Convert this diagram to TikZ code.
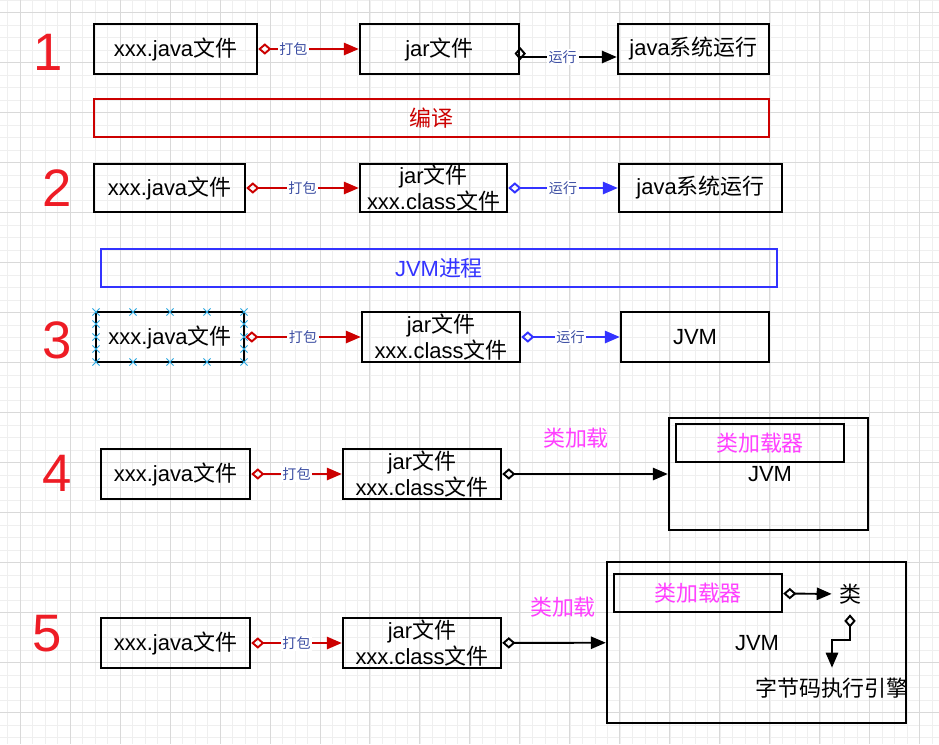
\documentclass[tikz,border=0pt]{standalone}
\usepackage{fontspec}
\setmainfont{Liberation Sans}
\newfontfamily\zh{Noto Sans CJK SC}
\usetikzlibrary{arrows.meta,shapes.misc}

\definecolor{numred}{HTML}{EE1C25}
\definecolor{pkgred}{HTML}{CC0000}
\definecolor{runblue}{HTML}{3333FF}
\definecolor{lblblue}{HTML}{3D4FA3}
\definecolor{loadpink}{HTML}{FF40FF}
\definecolor{gridminor}{HTML}{EFEFEF}
\definecolor{gridmajor}{HTML}{D9D9D9}
\definecolor{selcyan}{HTML}{2AA7E0}

\tikzset{
  filebox/.style={draw, line width=1.4pt, minimum height=1cm, inner sep=0pt, align=center, font=\fontsize{12.5}{14.5}\selectfont},
  plaintxt/.style={inner sep=1pt, font=\fontsize{12.5}{14.5}\selectfont},
  stepnum/.style={text=numred, inner sep=0pt, font=\fontsize{30}{30}\selectfont},
  banner/.style={draw, line width=1.2pt, minimum height=0.76cm, inner sep=0pt, font=\fontsize{12.5}{14.5}\selectfont},
  edgelbl/.style={fill=white, inner sep=1pt, text=lblblue, font=\zh\fontsize{8}{9}\selectfont},
  pack/.style={draw=pkgred, line width=1.1pt, {Diamond[open,length=7.5pt,width=6.5pt]}-{Triangle[length=8.5pt,width=7pt]}},
  runflow/.style={draw=runblue, line width=1.1pt, {Diamond[open,length=7.5pt,width=6.5pt]}-{Triangle[length=8.5pt,width=7pt]}},
  blkflow/.style={draw=black, line width=1.1pt, {Diamond[open,length=7.5pt,width=6.5pt]}-{Triangle[length=8.5pt,width=7pt]}},
  selmark/.style={cross out, draw=selcyan, line width=0.5pt, minimum size=3.5pt, inner sep=0pt}
}

\begin{document}
\begin{tikzpicture}[x=0.02cm, y=-0.02cm]

\useasboundingbox (0,0) rectangle (939,744);
\fill[white] (0,0) rectangle (939,744);
% grid behind everything
\begin{scope}[shift={(20,12.5)}]
\draw[gridminor, line width=0.4pt, step=0.25cm] (-20,-12.5) grid (919,731.5);
\draw[gridmajor, line width=0.5pt, step=1cm] (-20,-12.5) grid (919,731.5);
\end{scope}

% 1
\node[stepnum] (n1) at (48,52) {1};
\node[filebox, minimum width=3.26cm] (java1) at (175.5,49) {xxx.java{\zh 文件}};
\node[filebox, minimum width=3.18cm] (jar1) at (439.5,49) {jar{\zh 文件}};
\node[filebox, minimum width=3.02cm] (sys1) at (693.5,49) {java{\zh 系统运行}};
\draw[pack] (java1) -- node[edgelbl, pos=0.35] {打包} (jar1);
\draw[blkflow] ([yshift=0.04cm]jar1.east) |- node[edgelbl, pos=0.72] {运行} ([yshift=-0.16cm]sys1.west);

\node[banner, draw=pkgred, text=pkgred, minimum width=13.5cm] (compile) at (431.5,118) {\zh 编译};

% 2
\node[stepnum] (n2) at (57,188) {2};
\node[filebox, minimum width=3.02cm, minimum height=0.96cm] (java2) at (169.5,188) {xxx.java{\zh 文件}};
\node[filebox, minimum width=2.94cm, minimum height=0.96cm] (jar2) at (433.5,188) {jar{\zh 文件}\\xxx.class{\zh 文件}};
\node[filebox, minimum width=3.26cm, minimum height=0.96cm] (sys2) at (700.5,188) {java{\zh 系统运行}};
\draw[pack] (java2) -- node[edgelbl] {打包} (jar2);
\draw[runflow] (jar2) -- node[edgelbl] {运行} (sys2);

\node[banner, draw=runblue, text=runblue, minimum width=13.52cm] (proc) at (439,268) {JVM{\zh 进程}};

% 3
\node[stepnum] (n3) at (57,340) {3};
\node[filebox, minimum width=2.96cm] (java3) at (170,337) {xxx.java{\zh 文件}};
\node[filebox, minimum width=3.16cm] (jar3) at (441,337) {jar{\zh 文件}\\xxx.class{\zh 文件}};
\node[filebox, minimum width=2.96cm] (vm3) at (695,337) {JVM};
\draw[pack] (java3) -- node[edgelbl] {打包} (jar3);
\draw[runflow] (jar3) -- node[edgelbl] {运行} (vm3);
\foreach \gx in {96,133,170,207,244} {
  \node[selmark] at (\gx,312) {};
  \node[selmark] at (\gx,362) {};
}
\foreach \gy in {324,337,349} {
  \node[selmark] at (96,\gy) {};
  \node[selmark] at (244,\gy) {};
}

% 4
\node[stepnum] (n4) at (57,473) {4};
\node[filebox, minimum width=2.98cm] (java4) at (175.5,474) {xxx.java{\zh 文件}};
\node[filebox, minimum width=3.16cm] (jar4) at (422,474) {jar{\zh 文件}\\xxx.class{\zh 文件}};
\node[filebox, minimum width=3.98cm, minimum height=2.24cm] (vm4) at (768.5,474) {};
\node[filebox, minimum width=3.36cm, minimum height=0.76cm, text=loadpink] (loader4) at (760,443) {\zh 类加载器};
\node[plaintxt] (vmtxt4) at (770,474) {JVM};
\node[plaintxt, text=loadpink] (load4) at (576,438) {\zh 类加载};
\draw[pack] (java4) -- node[edgelbl] {打包} (jar4);
\draw[blkflow] (jar4) -- (vm4);

% 5
\node[stepnum] (n5) at (47,634) {5};
\node[filebox, minimum width=2.98cm] (java5) at (175.5,643) {xxx.java{\zh 文件}};
\node[filebox, minimum width=3.16cm] (jar5) at (422,643) {jar{\zh 文件}\\xxx.class{\zh 文件}};
\node[filebox, minimum width=5.98cm, minimum height=3.22cm] (vm5) at (756.5,642.5) {};
\node[filebox, minimum width=3.36cm, minimum height=0.76cm, text=loadpink] (loader5) at (698,593) {\zh 类加载器};
\node[plaintxt] (vmtxt5) at (757,643) {JVM};
\node[plaintxt, text=loadpink] (load5) at (563,607) {\zh 类加载};
\node[plaintxt, minimum width=0.72cm, minimum height=0.8cm, inner sep=0pt] (cls) at (850,594) {\zh 类};
\node[plaintxt, minimum height=0.8cm, inner sep=0pt] (eng) at (832,688) {\zh 字节码执行引擎};
\draw[pack] (java5) -- node[edgelbl] {打包} (jar5);
\draw[blkflow] (jar5) -- (vm5);
\draw[blkflow] (loader5) -- (cls);
\draw[blkflow] (cls.south) -- ++(0,26) -| (eng.north);

\end{tikzpicture}
\end{document}
